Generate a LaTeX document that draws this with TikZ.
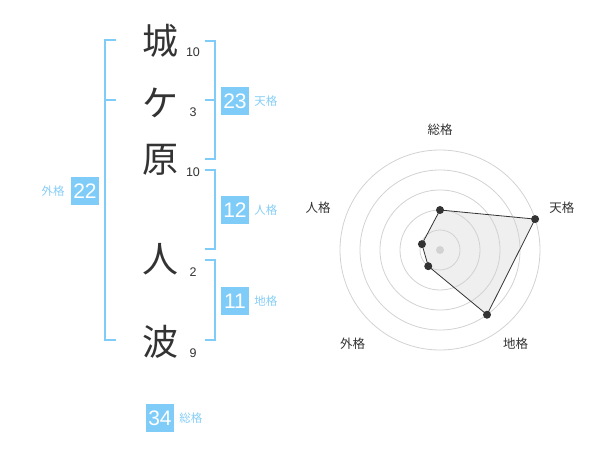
\documentclass[tikz,border=0pt]{standalone}
\usepackage{fontspec}
\usetikzlibrary{positioning}
\setmainfont{Liberation Sans}
\newfontfamily\jpfont{Noto Sans CJK JP}
\definecolor{kakublue}{HTML}{7FCCF9}
\definecolor{kakutext}{HTML}{86CDF6}
\definecolor{inkgray}{HTML}{333333}
\definecolor{ringgray}{HTML}{D2D2D2}
\definecolor{areagray}{HTML}{EFEFEF}

\begin{document}
\begin{tikzpicture}[
    x=1pt, y=-1pt,
    every node/.style={inner sep=0pt, text=inkgray},
    kanji/.style={font=\jpfont\fontsize{36}{36}\selectfont},
    strokes/.style={font=\fontsize{12.5}{12.5}\selectfont},
    kakubox/.style={fill=kakublue, text=white, minimum width=28pt, minimum height=28pt,
                    font=\fontsize{21}{21}\selectfont},
    kakulabel/.style={text=kakutext, font=\jpfont\fontsize{11.5}{11.5}\selectfont},
    bracket/.style={draw=kakublue, line width=2pt},
    ring/.style={draw=ringgray, line width=0.8pt},
    axislabel/.style={font=\jpfont\fontsize{12.5}{12.5}\selectfont},
    dot/.style={circle, fill=inkgray, minimum size=8pt}
]
\useasboundingbox (0,0) rectangle (600,470);

% Column x positions (px): kanji | strokes | left bracket | right brackets | boxes
\def\ck{160}
\def\cn{193}
\def\bl{105}
\def\br{215}
\def\cb{235}

% kanji of the name
\node[kanji] (k1) at (\ck, 41)  {城};
\node[kanji] (k2) at (\ck, 103) {ケ};
\node[kanji] (k3) at (\ck, 160) {原};
\node[kanji] (k4) at (\ck, 259) {人};
\node[kanji] (k5) at (\ck, 342) {波};

% stroke counts
\node[strokes] (s1) at (\cn, 52)  {10};
\node[strokes] (s2) at (\cn, 112) {3};
\node[strokes] (s3) at (\cn, 172) {10};
\node[strokes] (s4) at (\cn, 272) {2};
\node[strokes] (s5) at (\cn, 353) {9};

% left bracket (gaikaku)
\coordinate (gaiA) at (116, 40);
\coordinate (gaiB) at (\bl, 40);
\coordinate (gaiC) at (\bl, 340);
\coordinate (gaiD) at (116, 340);
\coordinate (gaiM) at (\bl, 100);
\coordinate (gaiN) at (116, 100);
\draw[bracket] (gaiA) -- (gaiB) -- (gaiC) -- (gaiD);
\draw[bracket] (gaiM) -- (gaiN);

% right brackets (tenkaku, jinkaku, chikaku)
\coordinate (tenA) at (205, 41);
\coordinate (tenB) at (\br, 41);
\coordinate (tenC) at (\br, 159);
\coordinate (tenD) at (205, 159);
\coordinate (tenM) at (205, 100);
\coordinate (tenN) at (\br, 100);
\draw[bracket] (tenA) -- (tenB) -- (tenC) -- (tenD);
\draw[bracket] (tenM) -- (tenN);

\coordinate (jinA) at (205, 170);
\coordinate (jinB) at (\br, 170);
\coordinate (jinC) at (\br, 249);
\coordinate (jinD) at (205, 249);
\draw[bracket] (jinA) -- (jinB) -- (jinC) -- (jinD);

\coordinate (chiA) at (205, 260);
\coordinate (chiB) at (\br, 260);
\coordinate (chiC) at (\br, 340);
\coordinate (chiD) at (205, 340);
\draw[bracket] (chiA) -- (chiB) -- (chiC) -- (chiD);

% fortune boxes and their labels
\node[kakubox] (ten) at (\cb, 101) {23};
\node[kakulabel, right=5pt of ten] (tenl) {天格};
\node[kakubox] (jin) at (\cb, 210) {12};
\node[kakulabel, right=5pt of jin] (jinl) {人格};
\node[kakubox] (chi) at (\cb, 301) {11};
\node[kakulabel, right=5pt of chi] (chil) {地格};
\node[kakubox] (gai) at (85, 191) {22};
\node[kakulabel, left=6pt of gai] (gail) {外格};
\node[kakubox] (sou) at (160, 418) {34};
\node[kakulabel, right=5pt of sou] (soul) {総格};

% radar chart
\begin{scope}[shift={(440,250)}, x=1pt, y=1pt]
  \coordinate (v1) at (90:40);
  \coordinate (v2) at (18:100);
  \coordinate (v3) at (-54:80);
  \coordinate (v4) at (-126:20);
  \coordinate (v5) at (162:19);

  \fill[areagray] (v1) -- (v2) -- (v3) -- (v4) -- (v5) -- cycle;
  \foreach \r in {20,40,...,100}
    \draw[ring] (0,0) circle (\r pt);
  \draw[inkgray, line width=0.8pt] (v1) -- (v2) -- (v3) -- (v4) -- (v5) -- cycle;

  \node[circle, fill=ringgray, minimum size=8pt] (ctr) at (0,0) {};
  \node[dot] (d1) at (v1) {};
  \node[dot] (d2) at (v2) {};
  \node[dot] (d3) at (v3) {};
  \node[dot] (d4) at (v4) {};
  \node[dot] (d5) at (v5) {};

  \node[axislabel] (a1) at (90:120)   {総格};
  \node[axislabel] (a2) at (19:129)   {天格};
  \node[axislabel] (a3) at (-51:120)  {地格};
  \node[axislabel] (a4) at (-133:128) {外格};
  \node[axislabel] (a5) at (161:129)  {人格};
\end{scope}

\end{tikzpicture}
\end{document}
